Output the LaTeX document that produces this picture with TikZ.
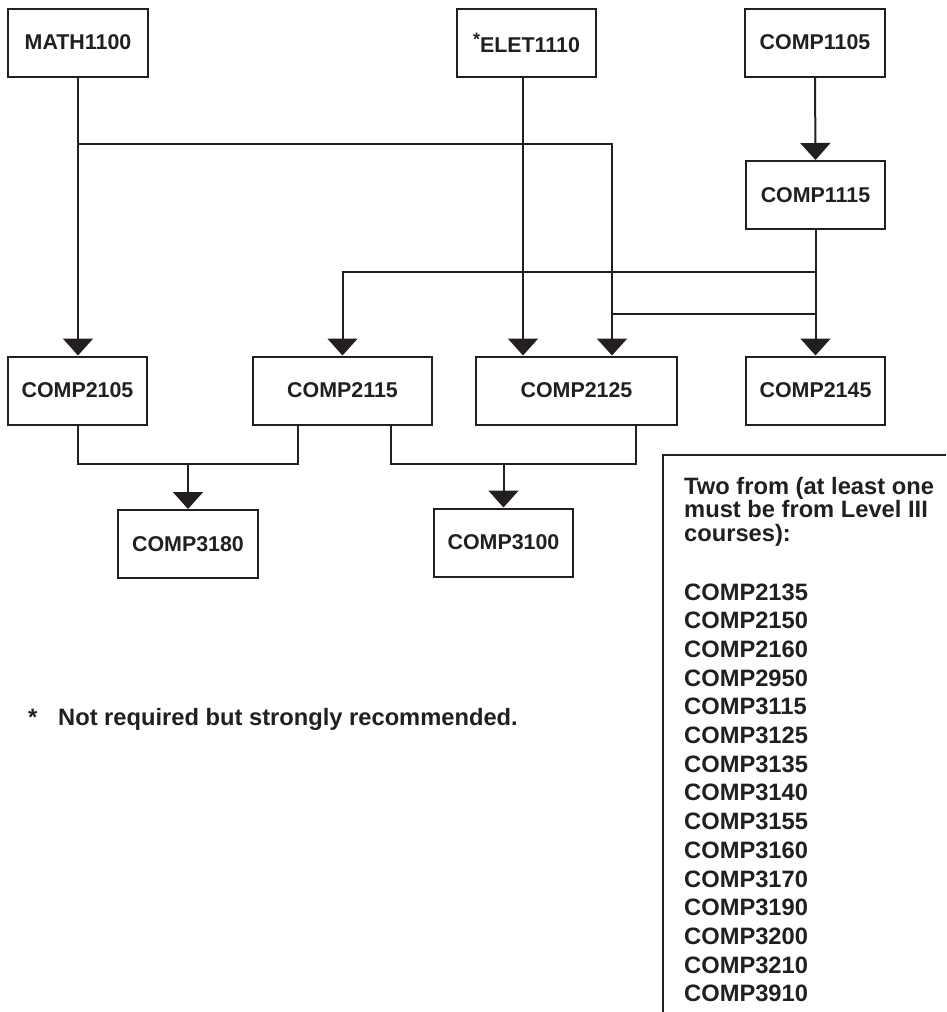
\documentclass[tikz,border=0pt]{standalone}
\usepackage{fontspec}
\setmainfont{Liberation Sans}
\usetikzlibrary{arrows.meta}
\definecolor{ink}{RGB}{35,31,32}
\begin{document}
\begin{tikzpicture}[x=1pt,y=-1pt,
  lbl/.style={text=ink, inner sep=0pt, font=\bfseries\fontsize{21.4}{24}\selectfont},
  big/.style={text=ink, inner sep=0pt, anchor=base west, font=\bfseries\fontsize{23.7}{26}\selectfont},
  course/.style={lbl, draw=ink, line width=2pt, minimum height=68pt},
  link/.style={draw=ink, line width=2pt},
  arr/.style={link, -{Triangle[width=30pt,length=17pt]}}]
\useasboundingbox (0,0) rectangle (946,1012);

% course boxes
\node[course, minimum width=140pt] (math)  at (78,42.5)    {MATH1100};
\node[course, minimum width=139pt] (elet)  at (526.5,42.5) {\raisebox{7pt}{\fontsize{18}{18}\selectfont *}ELET1110};
\node[course, minimum width=140pt] (c1105) at (815,42.5)   {COMP1105};
\node[course, minimum width=139pt] (c1115) at (815.5,195)  {COMP1115};
\node[course, minimum width=139pt] (c2105) at (77.5,390.5) {COMP2105};
\node[course, minimum width=179pt] (c2115) at (342.5,390.5){COMP2115};
\node[course, minimum width=201pt] (c2125) at (576.5,390.5){COMP2125};
\node[course, minimum width=139pt] (c2145) at (815.5,390.5){COMP2145};
\node[course, minimum width=140pt] (c3180) at (188,544)    {COMP3180};
\node[course, minimum width=139pt] (c3100) at (503.5,542.5){COMP3100};

% helper coordinates
\coordinate (y144) at (0,144);
\coordinate (y272) at (0,272);
\coordinate (y314) at (0,314);
\coordinate (y464) at (0,464);
\coordinate (in2125a) at ([xshift=48pt]c2125.north west);
\coordinate (in2125b) at ([xshift=137pt]c2125.north west);
\coordinate (out2125) at ([xshift=161pt]c2125.south west);
\coordinate (out2115a) at ([xshift=46pt]c2115.south west);
\coordinate (out2115b) at ([xshift=139pt]c2115.south west);

% connectors
\draw[arr] (math.south) -- (math.south |- c2105.north);
\draw[arr] (math.south |- y144) -| (in2125b);
\draw[arr] (elet.south -| in2125a) -- (in2125a);
\draw[arr] (c1105.south) -- (c1115.north);
\draw[arr] (c1115.south) -- (c2145.north);
\draw[arr] (c1115.south |- y272) -| (c2115.north);
\draw[link] (c1115.south |- y314) -- (in2125b |- y314);
\draw[link] (c2105.south) |- (out2115a |- y464) -- (out2115a);
\draw[arr] (c3180.north |- y464) -- (c3180.north);
\draw[link] (out2115b) |- (out2125 |- y464) -- (out2125);
\draw[arr] (c3100.north |- y464) -- (c3100.north);

% footnote
\node[big] (star) at (28,725) {*};
\node[big] (note) at (58,725) {Not required but strongly recommended.};

% electives box
\draw[link] (946,455) -- (663,455) -- (663,1013);
\node[big] (h1) at (684,494) {Two from (at least one};
\node[big] (h2) at (684,517.5) {must be from Level III};
\node[big] (h3) at (684,541) {courses):};
\foreach \c [count=\i from 0] in {2135,2150,2160,2950,3115,3125,3135,3140,3155,3160,3170,3190,3200,3210,3910}
  \node[big] (e\c) at (684,600+28.7*\i) {COMP\c};
\end{tikzpicture}
\end{document}
